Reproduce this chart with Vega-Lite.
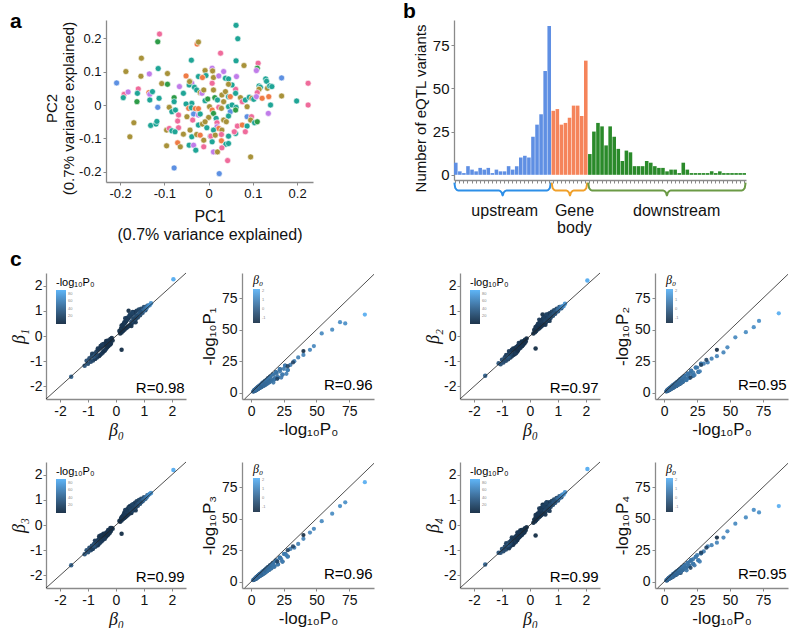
{
"$schema": "https://vega.github.io/schema/vega-lite/v6.json",
"padding": {"left": 10, "top": 0, "right": 0, "bottom": 0},
"config": {
 "font": "Liberation Sans",
 "view": {"stroke": null},
 "locale": {"number": {"decimal": ".", "thousands": ",", "grouping": [3], "currency": ["$", ""], "minus": "-"}},
 "axis": {"grid": false, "domainColor": "#8a8a8a", "domainWidth": 1.3, "tickColor": "#8a8a8a", "tickSize": 3, "labelColor": "#111", "titleColor": "#111", "titleFontWeight": "normal", "labelFontSize": 14, "titleFontSize": 17, "labelPadding": 2, "titlePadding": 3, "labelOverlap": false},
 "legend": {"titleFontWeight": "normal", "titleFontSize": 11, "labelFontSize": 4, "labelColor": "#888", "gradientLength": 34, "gradientThickness": 10, "titlePadding": 2, "labelOverlap": false, "gradientStrokeWidth": 0, "padding": 0},
 "title": {"fontSize": 21, "fontWeight": "bold", "anchor": "start", "frame": "group", "offset": 0, "baseline": "alphabetic", "color": "#000"}
},
"datasets": {
 "pca": [
{"x":-0.208,"y":0.066,"g":"B"},{"x":-0.111,"y":0.212,"g":"P"},{"x":-0.115,"y":0.189,"g":"G"},{"x":-0.026,"y":0.182,"g":"O"},{"x":-0.023,"y":0.188,"g":"L"},{"x":0.027,"y":0.155,"g":"P"},{"x":0.062,"y":0.238,"g":"T"},{"x":0.066,"y":0.198,"g":"T"},{"x":0.062,"y":0.132,"g":"T"},{"x":-0.039,"y":0.134,"g":"T"},
{"x":-0.152,"y":0.14,"g":"L"},{"x":-0.187,"y":0.1,"g":"L"},{"x":-0.153,"y":0.086,"g":"L"},{"x":-0.134,"y":0.093,"g":"U"},{"x":-0.114,"y":0.109,"g":"T"},{"x":-0.093,"y":0.094,"g":"L"},{"x":-0.106,"y":0.064,"g":"L"},{"x":-0.093,"y":0.062,"g":"G"},{"x":-0.191,"y":0.032,"g":"P"},{"x":-0.182,"y":0.039,"g":"U"},
{"x":-0.193,"y":0.022,"g":"T"},{"x":-0.159,"y":0.048,"g":"P"},{"x":-0.161,"y":0.035,"g":"T"},{"x":-0.162,"y":0.01,"g":"G"},{"x":-0.135,"y":0.037,"g":"O"},{"x":-0.133,"y":0.032,"g":"U"},{"x":-0.127,"y":0.04,"g":"T"},{"x":-0.133,"y":0.015,"g":"T"},{"x":-0.112,"y":0.02,"g":"T"},{"x":-0.115,"y":-0.007,"g":"B"},
{"x":-0.169,"y":-0.053,"g":"L"},{"x":-0.178,"y":-0.095,"g":"L"},{"x":-0.131,"y":-0.061,"g":"T"},{"x":-0.119,"y":-0.057,"g":"T"},{"x":-0.117,"y":-0.049,"g":"T"},{"x":-0.095,"y":-0.075,"g":"L"},{"x":-0.089,"y":-0.07,"g":"P"},{"x":-0.095,"y":-0.122,"g":"L"},{"x":-0.078,"y":0.022,"g":"G"},{"x":-0.078,"y":0.01,"g":"T"},
{"x":-0.089,"y":-0.007,"g":"L"},{"x":-0.083,"y":-0.02,"g":"T"},{"x":-0.075,"y":-0.015,"g":"T"},{"x":-0.068,"y":-0.03,"g":"P"},{"x":-0.066,"y":0.055,"g":"U"},{"x":-0.057,"y":0.035,"g":"T"},{"x":-0.07,"y":-0.048,"g":"P"},{"x":-0.068,"y":-0.068,"g":"P"},{"x":-0.083,"y":-0.077,"g":"T"},{"x":-0.076,"y":-0.08,"g":"T"},
{"x":-0.057,"y":-0.087,"g":"L"},{"x":-0.07,"y":-0.113,"g":"O"},{"x":-0.064,"y":-0.125,"g":"L"},{"x":-0.078,"y":-0.188,"g":"B"},{"x":-0.051,"y":0.087,"g":"O"},{"x":-0.042,"y":0.07,"g":"O"},{"x":-0.038,"y":0.065,"g":"U"},{"x":-0.044,"y":0.06,"g":"T"},{"x":-0.032,"y":0.053,"g":"T"},{"x":-0.027,"y":0.045,"g":"T"},
{"x":-0.019,"y":0.037,"g":"L"},{"x":-0.015,"y":0.035,"g":"U"},{"x":-0.038,"y":0.005,"g":"T"},{"x":-0.051,"y":0.003,"g":"T"},{"x":-0.045,"y":-0.01,"g":"O"},{"x":-0.039,"y":-0.008,"g":"T"},{"x":-0.03,"y":-0.011,"g":"O"},{"x":-0.023,"y":-0.011,"g":"O"},{"x":-0.049,"y":-0.035,"g":"L"},{"x":-0.034,"y":-0.027,"g":"B"},
{"x":-0.023,"y":-0.03,"g":"U"},{"x":-0.019,"y":-0.027,"g":"T"},{"x":-0.036,"y":-0.045,"g":"P"},{"x":-0.042,"y":-0.075,"g":"L"},{"x":-0.038,"y":-0.095,"g":"T"},{"x":-0.044,"y":-0.12,"g":"T"},{"x":-0.034,"y":-0.12,"g":"U"},{"x":-0.029,"y":-0.135,"g":"T"},{"x":-0.027,"y":-0.088,"g":"L"},{"x":-0.023,"y":-0.06,"g":"T"},
{"x":-0.014,"y":-0.057,"g":"L"},{"x":-0.004,"y":-0.068,"g":"T"},{"x":-0.019,"y":-0.09,"g":"O"},{"x":-0.011,"y":-0.105,"g":"L"},{"x":-0.011,"y":-0.125,"g":"P"},{"x":0.004,"y":-0.093,"g":"T"},{"x":-0.008,"y":0.103,"g":"L"},{"x":0.008,"y":0.11,"g":"U"},{"x":0.009,"y":0.102,"g":"L"},{"x":-0.023,"y":0.085,"g":"T"},
{"x":-0.006,"y":0.088,"g":"T"},{"x":0.011,"y":0.082,"g":"L"},{"x":0.023,"y":0.087,"g":"U"},{"x":0.034,"y":0.1,"g":"U"},{"x":0.038,"y":0.08,"g":"T"},{"x":0.045,"y":0.078,"g":"T"},{"x":0.063,"y":0.085,"g":"U"},{"x":0.008,"y":0.065,"g":"P"},{"x":0.011,"y":0.045,"g":"L"},{"x":0.014,"y":0.022,"g":"G"},
{"x":0.02,"y":0.015,"g":"T"},{"x":0.03,"y":0.03,"g":"L"},{"x":0.038,"y":0.04,"g":"L"},{"x":0.045,"y":0.025,"g":"T"},{"x":0.049,"y":0.025,"g":"O"},{"x":0.061,"y":0.047,"g":"P"},{"x":0.061,"y":0.035,"g":"T"},{"x":0.002,"y":-0.005,"g":"L"},{"x":0.008,"y":-0.015,"g":"O"},{"x":0.023,"y":-0.007,"g":"P"},
{"x":0.029,"y":-0.01,"g":"L"},{"x":0.034,"y":0.01,"g":"L"},{"x":0.045,"y":-0.005,"g":"T"},{"x":0.053,"y":0,"g":"T"},{"x":0.062,"y":-0.007,"g":"T"},{"x":0.049,"y":-0.02,"g":"B"},{"x":0.061,"y":-0.015,"g":"G"},{"x":0.011,"y":-0.025,"g":"G"},{"x":0,"y":-0.037,"g":"L"},{"x":0.017,"y":-0.04,"g":"T"},
{"x":-0.008,"y":-0.05,"g":"L"},{"x":0.019,"y":-0.053,"g":"P"},{"x":0.034,"y":-0.045,"g":"L"},{"x":0.045,"y":-0.033,"g":"T"},{"x":0.04,"y":-0.05,"g":"L"},{"x":0.019,"y":-0.065,"g":"U"},{"x":0.023,"y":-0.07,"g":"O"},{"x":0.03,"y":-0.075,"g":"L"},{"x":0.011,"y":-0.075,"g":"T"},{"x":0.005,"y":-0.093,"g":"P"},
{"x":0.015,"y":-0.09,"g":"L"},{"x":0.029,"y":-0.088,"g":"P"},{"x":0.045,"y":-0.093,"g":"T"},{"x":0.029,"y":-0.107,"g":"O"},{"x":0.008,"y":-0.11,"g":"T"},{"x":0.039,"y":-0.117,"g":"T"},{"x":0.011,"y":-0.14,"g":"U"},{"x":0.02,"y":-0.14,"g":"L"},{"x":0.03,"y":-0.128,"g":"P"},{"x":0.043,"y":-0.166,"g":"P"},
{"x":0.024,"y":-0.205,"g":"B"},{"x":0.045,"y":-0.115,"g":"T"},{"x":0.061,"y":-0.085,"g":"T"},{"x":0.065,"y":-0.063,"g":"P"},{"x":0.058,"y":-0.08,"g":"P"},{"x":0.076,"y":-0.06,"g":"O"},{"x":0.087,"y":-0.063,"g":"T"},{"x":0.083,"y":-0.08,"g":"P"},{"x":0.087,"y":-0.035,"g":"B"},{"x":0.097,"y":-0.035,"g":"P"},
{"x":0.095,"y":-0.045,"g":"L"},{"x":0.104,"y":-0.053,"g":"T"},{"x":0.11,"y":-0.05,"g":"G"},{"x":0.095,"y":-0.155,"g":"L"},{"x":0.08,"y":0.118,"g":"L"},{"x":0.112,"y":0.125,"g":"P"},{"x":0.11,"y":0.11,"g":"G"},{"x":0.108,"y":0.103,"g":"U"},{"x":0.072,"y":0.022,"g":"L"},{"x":0.076,"y":0.01,"g":"P"},
{"x":0.083,"y":0.015,"g":"T"},{"x":0.087,"y":-0.005,"g":"L"},{"x":0.092,"y":0.023,"g":"T"},{"x":0.098,"y":0.02,"g":"L"},{"x":0.102,"y":0.017,"g":"T"},{"x":0.114,"y":0.057,"g":"T"},{"x":0.117,"y":0.053,"g":"T"},{"x":0.114,"y":0.047,"g":"L"},{"x":0.11,"y":0.037,"g":"P"},{"x":0.108,"y":0.025,"g":"U"},
{"x":0.129,"y":0.078,"g":"T"},{"x":0.131,"y":0.071,"g":"T"},{"x":0.133,"y":0.05,"g":"L"},{"x":0.138,"y":0.057,"g":"T"},{"x":0.143,"y":0.055,"g":"T"},{"x":0.121,"y":0.02,"g":"O"},{"x":0.136,"y":0.025,"g":"O"},{"x":0.14,"y":0,"g":"T"},{"x":0.135,"y":-0.025,"g":"U"},{"x":0.165,"y":0.081,"g":"B"},
{"x":0.165,"y":0.027,"g":"L"},{"x":0.199,"y":0.012,"g":"T"},{"x":0.225,"y":0.065,"g":"P"},{"x":0.225,"y":0,"g":"P"},{"x":0.053,"y":0.06,"g":"T"},{"x":0.045,"y":0.062,"g":"L"},{"x":-0.011,"y":0.045,"g":"L"},{"x":-0.014,"y":0.082,"g":"O"},{"x":-0.043,"y":0.07,"g":"L"},{"x":-0.008,"y":0.013,"g":"T"},
{"x":-0.002,"y":0.018,"g":"G"}
 ],
 "hist": [
{"bin":0,"n":7,"r":"upstream"},{"bin":1,"n":2,"r":"upstream"},{"bin":2,"n":1,"r":"upstream"},{"bin":3,"n":5,"r":"upstream"},{"bin":4,"n":3,"r":"upstream"},{"bin":5,"n":2,"r":"upstream"},{"bin":6,"n":4,"r":"upstream"},{"bin":7,"n":3,"r":"upstream"},{"bin":8,"n":4,"r":"upstream"},{"bin":9,"n":1,"r":"upstream"},{"bin":10,"n":3,"r":"upstream"},{"bin":11,"n":2,"r":"upstream"},{"bin":12,"n":2,"r":"upstream"},{"bin":13,"n":5,"r":"upstream"},{"bin":14,"n":3,"r":"upstream"},{"bin":15,"n":5,"r":"upstream"},{"bin":16,"n":10,"r":"upstream"},{"bin":17,"n":11,"r":"upstream"},{"bin":18,"n":10,"r":"upstream"},{"bin":19,"n":22,"r":"upstream"},{"bin":20,"n":29,"r":"upstream"},{"bin":21,"n":35,"r":"upstream"},{"bin":22,"n":60,"r":"upstream"},{"bin":23,"n":86,"r":"upstream"},
{"bin":24,"n":37,"r":"gene"},{"bin":25,"n":38,"r":"gene"},{"bin":26,"n":29,"r":"gene"},{"bin":27,"n":30,"r":"gene"},{"bin":28,"n":33,"r":"gene"},{"bin":29,"n":40,"r":"gene"},{"bin":30,"n":40,"r":"gene"},{"bin":31,"n":34,"r":"gene"},{"bin":32,"n":66,"r":"gene"},
{"bin":33,"n":12,"r":"downstream"},{"bin":34,"n":25,"r":"downstream"},{"bin":35,"n":30,"r":"downstream"},{"bin":36,"n":28,"r":"downstream"},{"bin":37,"n":17,"r":"downstream"},{"bin":38,"n":28,"r":"downstream"},{"bin":39,"n":22,"r":"downstream"},{"bin":40,"n":15,"r":"downstream"},{"bin":41,"n":8,"r":"downstream"},{"bin":42,"n":14,"r":"downstream"},{"bin":43,"n":13,"r":"downstream"},{"bin":44,"n":5,"r":"downstream"},{"bin":45,"n":5,"r":"downstream"},{"bin":46,"n":5,"r":"downstream"},{"bin":47,"n":8,"r":"downstream"},{"bin":48,"n":7,"r":"downstream"},{"bin":49,"n":5,"r":"downstream"},{"bin":50,"n":4,"r":"downstream"},{"bin":51,"n":4,"r":"downstream"},{"bin":52,"n":2,"r":"downstream"},{"bin":53,"n":3,"r":"downstream"},{"bin":54,"n":3,"r":"downstream"},{"bin":55,"n":1,"r":"downstream"},{"bin":56,"n":7,"r":"downstream"},{"bin":57,"n":3,"r":"downstream"},{"bin":58,"n":1,"r":"downstream"},{"bin":59,"n":1,"r":"downstream"},{"bin":60,"n":1,"r":"downstream"},{"bin":61,"n":1,"r":"downstream"},{"bin":62,"n":1,"r":"downstream"},{"bin":63,"n":2,"r":"downstream"},{"bin":64,"n":1,"r":"downstream"},{"bin":65,"n":2,"r":"downstream"},{"bin":66,"n":1,"r":"downstream"},{"bin":67,"n":1,"r":"downstream"},{"bin":68,"n":1,"r":"downstream"},{"bin":69,"n":1,"r":"downstream"},{"bin":70,"n":1,"r":"downstream"},{"bin":71,"n":1,"r":"downstream"}
 ],
 "braces": [
{"k":"u","x":0.1,"y":-4.5},{"k":"u","x":0.35,"y":-7.8},{"k":"u","x":1.0,"y":-9},{"k":"u","x":11.1,"y":-9},{"k":"u","x":11.75,"y":-10.2},{"k":"u","x":12,"y":-12},{"k":"u","x":12.25,"y":-10.2},{"k":"u","x":12.9,"y":-9},{"k":"u","x":22.95,"y":-9},{"k":"u","x":23.6,"y":-7.8},{"k":"u","x":23.85,"y":-4.5},
{"k":"g","x":24.1,"y":-4.5},{"k":"g","x":24.35,"y":-7.8},{"k":"g","x":25.0,"y":-9},{"k":"g","x":27.7,"y":-9},{"k":"g","x":28.35,"y":-10.2},{"k":"g","x":28.6,"y":-12},{"k":"g","x":28.85,"y":-10.2},{"k":"g","x":29.5,"y":-9},{"k":"g","x":31.95,"y":-9},{"k":"g","x":32.6,"y":-7.8},{"k":"g","x":32.85,"y":-4.5},
{"k":"d","x":33.1,"y":-4.5},{"k":"d","x":33.35,"y":-7.8},{"k":"d","x":34.0,"y":-9},{"k":"d","x":51.6,"y":-9},{"k":"d","x":52.25,"y":-10.2},{"k":"d","x":52.5,"y":-12},{"k":"d","x":52.75,"y":-10.2},{"k":"d","x":53.4,"y":-9},{"k":"d","x":71.0,"y":-9},{"k":"d","x":71.65,"y":-7.8},{"k":"d","x":71.9,"y":-4.5}
 ],
 "regions": [
{"t":"upstream","x":12.5,"y":-20.8},{"t":"Gene","x":29.7,"y":-20.8},{"t":"body","x":29.7,"y":-30.8},{"t":"downstream","x":54.9,"y":-20.8}
 ],
 "eqtl": [
{"b0":-0.12,"b1":-0.18,"b2":-0.1,"b3":-0.15,"b4":-0.09,"p0":2.1,"p1":1.2,"p2":1.8,"p3":1.5,"p4":1.0},
{"b0":-0.15,"b1":-0.08,"b2":-0.22,"b3":-0.12,"b4":-0.2,"p0":2.6,"p1":2.2,"p2":1.4,"p3":2.0,"p4":1.7},
{"b0":-0.18,"b1":-0.3,"b2":-0.15,"b3":-0.24,"b4":-0.13,"p0":3.0,"p1":1.6,"p2":2.6,"p3":2.1,"p4":2.4},
{"b0":-0.2,"b1":-0.12,"b2":-0.3,"b3":-0.17,"b4":-0.27,"p0":3.4,"p1":2.8,"p2":1.9,"p3":3.0,"p4":2.2},
{"b0":-0.22,"b1":-0.35,"b2":-0.2,"b3":-0.31,"b4":-0.18,"p0":3.8,"p1":2.0,"p2":3.3,"p3":2.4,"p4":3.0},
{"b0":-0.25,"b1":-0.2,"b2":-0.36,"b3":-0.22,"b4":-0.33,"p0":4.2,"p1":3.6,"p2":2.4,"p3":3.8,"p4":2.7},
{"b0":-0.27,"b1":-0.4,"b2":-0.25,"b3":-0.37,"b4":-0.22,"p0":4.5,"p1":2.6,"p2":3.9,"p3":3.0,"p4":3.8},
{"b0":-0.3,"b1":-0.24,"b2":-0.41,"b3":-0.27,"b4":-0.4,"p0":5.0,"p1":4.4,"p2":3.0,"p3":4.5,"p4":3.4},
{"b0":-0.32,"b1":-0.46,"b2":-0.28,"b3":-0.42,"b4":-0.3,"p0":5.3,"p1":3.1,"p2":4.6,"p3":3.6,"p4":4.5},
{"b0":-0.34,"b1":-0.27,"b2":-0.47,"b3":-0.3,"b4":-0.44,"p0":5.8,"p1":5.0,"p2":3.5,"p3":5.2,"p4":3.8},
{"b0":-0.36,"b1":-0.52,"b2":-0.33,"b3":-0.47,"b4":-0.32,"p0":6.1,"p1":3.6,"p2":5.3,"p3":4.2,"p4":5.0},
{"b0":-0.38,"b1":-0.3,"b2":-0.5,"b3":-0.34,"b4":-0.49,"p0":6.5,"p1":5.7,"p2":4.0,"p3":5.9,"p4":4.5},
{"b0":-0.4,"b1":-0.56,"b2":-0.36,"b3":-0.5,"b4":-0.35,"p0":7.0,"p1":4.1,"p2":6.0,"p3":4.8,"p4":6.2},
{"b0":-0.42,"b1":-0.35,"b2":-0.55,"b3":-0.38,"b4":-0.52,"p0":7.4,"p1":6.5,"p2":4.6,"p3":6.6,"p4":5.0},
{"b0":-0.44,"b1":-0.6,"b2":-0.4,"b3":-0.56,"b4":-0.4,"p0":7.9,"p1":4.6,"p2":6.9,"p3":5.3,"p4":6.7},
{"b0":-0.46,"b1":-0.38,"b2":-0.6,"b3":-0.41,"b4":-0.58,"p0":8.3,"p1":7.4,"p2":5.1,"p3":7.4,"p4":5.6},
{"b0":-0.48,"b1":-0.66,"b2":-0.44,"b3":-0.61,"b4":-0.43,"p0":8.8,"p1":5.2,"p2":7.5,"p3":5.9,"p4":7.6},
{"b0":-0.5,"b1":-0.42,"b2":-0.64,"b3":-0.46,"b4":-0.63,"p0":9.2,"p1":8.1,"p2":5.6,"p3":8.2,"p4":6.1},
{"b0":-0.52,"b1":-0.7,"b2":-0.47,"b3":-0.65,"b4":-0.47,"p0":9.8,"p1":5.7,"p2":8.4,"p3":6.6,"p4":8.3},
{"b0":-0.55,"b1":-0.47,"b2":-0.7,"b3":-0.5,"b4":-0.68,"p0":10.5,"p1":9.2,"p2":6.3,"p3":9.4,"p4":6.9},
{"b0":-0.57,"b1":-0.75,"b2":-0.52,"b3":-0.7,"b4":-0.52,"p0":11.0,"p1":6.4,"p2":9.5,"p3":7.4,"p4":9.3},
{"b0":-0.6,"b1":-0.51,"b2":-0.75,"b3":-0.55,"b4":-0.74,"p0":11.8,"p1":10.3,"p2":7.2,"p3":10.6,"p4":7.8},
{"b0":-0.62,"b1":-0.8,"b2":-0.57,"b3":-0.75,"b4":-0.56,"p0":12.3,"p1":7.3,"p2":10.7,"p3":8.4,"p4":10.4},
{"b0":-0.65,"b1":-0.56,"b2":-0.8,"b3":-0.6,"b4":-0.79,"p0":13.0,"p1":11.5,"p2":8.0,"p3":11.7,"p4":8.7},
{"b0":-0.68,"b1":-0.85,"b2":-0.62,"b3":-0.8,"b4":-0.62,"p0":13.8,"p1":8.2,"p2":12.0,"p3":9.4,"p4":11.8},
{"b0":-0.7,"b1":-0.62,"b2":-0.85,"b3":-0.66,"b4":-0.84,"p0":14.5,"p1":12.8,"p2":9.0,"p3":13.0,"p4":9.7},
{"b0":-0.74,"b1":-0.9,"b2":-0.68,"b3":-0.86,"b4":-0.68,"p0":15.5,"p1":9.3,"p2":13.4,"p3":10.6,"p4":13.2},
{"b0":-0.78,"b1":-0.7,"b2":-0.92,"b3":-0.74,"b4":-0.9,"p0":16.6,"p1":14.5,"p2":10.4,"p3":14.8,"p4":11.0},
{"b0":-0.82,"b1":-0.97,"b2":-0.76,"b3":-0.94,"b4":-0.77,"p0":17.8,"p1":10.6,"p2":15.2,"p3":12.0,"p4":15.0},
{"b0":-0.86,"b1":-0.78,"b2":-0.98,"b3":-0.82,"b4":-0.97,"p0":19.0,"p1":16.4,"p2":11.8,"p3":16.8,"p4":12.5},
{"b0":-0.9,"b1":-1.02,"b2":-0.84,"b3":-1.0,"b4":-0.86,"p0":20.5,"p1":12.2,"p2":17.5,"p3":13.8,"p4":17.2},
{"b0":-0.95,"b1":-0.88,"b2":-1.05,"b3":-0.9,"b4":-1.04,"p0":22.0,"p1":18.8,"p2":13.5,"p3":19.2,"p4":14.2},
{"b0":-1.0,"b1":-1.1,"b2":-0.94,"b3":-1.08,"b4":-0.95,"p0":24.0,"p1":14.4,"p2":20.0,"p3":16.0,"p4":19.8},
{"b0":-1.05,"b1":-0.98,"b2":-1.12,"b3":-1.0,"b4":-1.1,"p0":26.0,"p1":21.5,"p2":16.5,"p3":22.0,"p4":17.0},
{"b0":-1.12,"b1":-1.18,"b2":-1.08,"b3":-1.16,"b4":-1.1,"p0":28.0,"p1":18.0,"p2":23.0,"p3":20.0,"p4":22.5},
{"b0":-1.6,"b1":-1.62,"b2":-1.58,"b3":-1.6,"b4":-1.57,"p0":40.0,"p1":33.0,"p2":34.0,"p3":37.0,"p4":35.0},
{"b0":-0.35,"b1":-0.2,"b2":-0.3,"b3":-0.45,"b4":-0.22,"p0":4.0,"p1":3.0,"p2":2.2,"p3":3.5,"p4":2.5},
{"b0":-0.45,"b1":-0.32,"b2":-0.62,"b3":-0.35,"b4":-0.3,"p0":5.5,"p1":4.0,"p2":3.2,"p3":4.8,"p4":3.4},
{"b0":-0.55,"b1":-0.4,"b2":-0.72,"b3":-0.42,"b4":-0.7,"p0":7.5,"p1":5.2,"p2":4.5,"p3":6.4,"p4":4.8},
{"b0":-0.3,"b1":-0.42,"b2":-0.22,"b3":-0.4,"b4":-0.2,"p0":3.6,"p1":2.0,"p2":2.9,"p3":2.4,"p4":3.1},
{"b0":-0.4,"b1":-0.58,"b2":-0.28,"b3":-0.55,"b4":-0.3,"p0":9.5,"p1":6.0,"p2":5.5,"p3":8.4,"p4":5.8},
{"b0":-0.5,"b1":-0.35,"b2":-0.68,"b3":-0.4,"b4":-0.66,"p0":12.5,"p1":8.0,"p2":7.4,"p3":10.5,"p4":7.0},
{"b0":-0.6,"b1":-0.78,"b2":-0.5,"b3":-0.45,"b4":-0.78,"p0":6.2,"p1":4.0,"p2":5.0,"p3":4.5,"p4":4.2},
{"b0":-0.28,"b1":-0.18,"b2":-0.4,"b3":-0.2,"b4":-0.38,"p0":6.8,"p1":4.5,"p2":3.8,"p3":6.0,"p4":4.0},
{"b0":0.2,"b1":-0.55,"b2":-0.5,"b3":-0.35,"b4":-0.42,"p0":1.5,"p1":0.8,"p2":0.9,"p3":1.2,"p4":1.0},
{"b0":-0.65,"b1":-0.5,"b2":-0.55,"b3":-0.8,"b4":-0.5,"p0":9.0,"p1":6.0,"p2":5.2,"p3":7.8,"p4":5.5},
{"b0":-0.75,"b1":-0.9,"b2":-0.6,"b3":-0.62,"b4":-0.92,"p0":11.5,"p1":7.5,"p2":6.8,"p3":10.0,"p4":7.2},
{"b0":-0.2,"b1":-0.32,"b2":-0.28,"b3":-0.12,"b4":-0.3,"p0":5.0,"p1":3.0,"p2":3.5,"p3":4.3,"p4":3.2},
{"b0":-0.45,"b1":-0.62,"b2":-0.58,"b3":-0.4,"b4":-0.6,"p0":4.8,"p1":2.6,"p2":3.8,"p3":4.0,"p4":3.0},
{"b0":-0.85,"b1":-0.7,"b2":-0.75,"b3":-0.95,"b4":-0.72,"p0":14.0,"p1":9.0,"p2":8.5,"p3":12.0,"p4":9.2},
{"b0":0.12,"b1":0.2,"b2":0.1,"b3":0.16,"b4":0.09,"p0":2.0,"p1":1.1,"p2":1.7,"p3":1.4,"p4":1.0},
{"b0":0.15,"b1":0.1,"b2":0.24,"b3":0.13,"b4":0.21,"p0":2.4,"p1":2.0,"p2":1.2,"p3":1.9,"p4":1.5},
{"b0":0.18,"b1":0.3,"b2":0.15,"b3":0.26,"b4":0.14,"p0":2.9,"p1":1.5,"p2":2.5,"p3":2.0,"p4":2.3},
{"b0":0.2,"b1":0.14,"b2":0.32,"b3":0.18,"b4":0.3,"p0":3.3,"p1":2.7,"p2":1.8,"p3":2.9,"p4":2.1},
{"b0":0.22,"b1":0.38,"b2":0.2,"b3":0.33,"b4":0.19,"p0":3.7,"p1":1.9,"p2":3.2,"p3":2.3,"p4":2.9},
{"b0":0.25,"b1":0.2,"b2":0.4,"b3":0.24,"b4":0.37,"p0":4.1,"p1":3.5,"p2":2.3,"p3":3.7,"p4":2.6},
{"b0":0.27,"b1":0.45,"b2":0.26,"b3":0.4,"b4":0.25,"p0":4.4,"p1":2.5,"p2":3.8,"p3":2.9,"p4":3.7},
{"b0":0.3,"b1":0.25,"b2":0.46,"b3":0.28,"b4":0.44,"p0":4.9,"p1":4.3,"p2":2.9,"p3":4.4,"p4":3.3},
{"b0":0.32,"b1":0.52,"b2":0.3,"b3":0.47,"b4":0.31,"p0":5.2,"p1":3.0,"p2":4.5,"p3":3.5,"p4":4.4},
{"b0":0.34,"b1":0.3,"b2":0.52,"b3":0.32,"b4":0.5,"p0":5.7,"p1":4.9,"p2":3.4,"p3":5.1,"p4":3.7},
{"b0":0.36,"b1":0.58,"b2":0.34,"b3":0.52,"b4":0.35,"p0":6.0,"p1":3.5,"p2":5.2,"p3":4.1,"p4":4.9},
{"b0":0.38,"b1":0.33,"b2":0.57,"b3":0.36,"b4":0.55,"p0":6.4,"p1":5.6,"p2":3.9,"p3":5.8,"p4":4.4},
{"b0":0.4,"b1":0.64,"b2":0.38,"b3":0.58,"b4":0.39,"p0":6.9,"p1":4.0,"p2":5.9,"p3":4.7,"p4":6.1},
{"b0":0.42,"b1":0.37,"b2":0.62,"b3":0.4,"b4":0.6,"p0":7.3,"p1":6.4,"p2":4.5,"p3":6.5,"p4":4.9},
{"b0":0.44,"b1":0.7,"b2":0.42,"b3":0.63,"b4":0.43,"p0":7.8,"p1":4.5,"p2":6.8,"p3":5.2,"p4":6.6},
{"b0":0.46,"b1":0.4,"b2":0.68,"b3":0.44,"b4":0.66,"p0":8.2,"p1":7.3,"p2":5.0,"p3":7.3,"p4":5.5},
{"b0":0.48,"b1":0.76,"b2":0.46,"b3":0.68,"b4":0.47,"p0":8.7,"p1":5.1,"p2":7.4,"p3":5.8,"p4":7.5},
{"b0":0.5,"b1":0.44,"b2":0.72,"b3":0.48,"b4":0.7,"p0":9.1,"p1":8.0,"p2":5.5,"p3":8.1,"p4":6.0},
{"b0":0.52,"b1":0.8,"b2":0.5,"b3":0.72,"b4":0.5,"p0":9.7,"p1":5.6,"p2":8.3,"p3":6.5,"p4":8.2},
{"b0":0.55,"b1":0.49,"b2":0.77,"b3":0.53,"b4":0.75,"p0":10.4,"p1":9.1,"p2":6.2,"p3":9.3,"p4":6.8},
{"b0":0.57,"b1":0.86,"b2":0.55,"b3":0.78,"b4":0.56,"p0":10.9,"p1":6.3,"p2":9.4,"p3":7.3,"p4":9.2},
{"b0":0.6,"b1":0.54,"b2":0.82,"b3":0.58,"b4":0.8,"p0":11.7,"p1":10.2,"p2":7.1,"p3":10.5,"p4":7.7},
{"b0":0.62,"b1":0.9,"b2":0.6,"b3":0.82,"b4":0.6,"p0":12.2,"p1":7.2,"p2":10.6,"p3":8.3,"p4":10.3},
{"b0":0.65,"b1":0.6,"b2":0.86,"b3":0.63,"b4":0.85,"p0":12.9,"p1":11.4,"p2":7.9,"p3":11.6,"p4":8.6},
{"b0":0.68,"b1":0.95,"b2":0.66,"b3":0.88,"b4":0.66,"p0":13.7,"p1":8.1,"p2":11.9,"p3":9.3,"p4":11.7},
{"b0":0.7,"b1":0.66,"b2":0.9,"b3":0.68,"b4":0.9,"p0":14.4,"p1":12.7,"p2":8.9,"p3":12.9,"p4":9.6},
{"b0":0.74,"b1":1.0,"b2":0.72,"b3":0.94,"b4":0.72,"p0":15.4,"p1":9.2,"p2":13.3,"p3":10.5,"p4":13.1},
{"b0":0.78,"b1":0.73,"b2":0.96,"b3":0.76,"b4":0.95,"p0":16.5,"p1":14.4,"p2":10.3,"p3":14.7,"p4":10.9},
{"b0":0.82,"b1":1.05,"b2":0.8,"b3":0.99,"b4":0.8,"p0":17.7,"p1":10.5,"p2":15.1,"p3":11.9,"p4":14.9},
{"b0":0.86,"b1":0.82,"b2":1.02,"b3":0.84,"b4":1.01,"p0":18.9,"p1":16.3,"p2":11.7,"p3":16.7,"p4":12.4},
{"b0":0.9,"b1":1.08,"b2":0.88,"b3":1.04,"b4":0.88,"p0":20.4,"p1":12.1,"p2":17.4,"p3":13.7,"p4":17.1},
{"b0":0.95,"b1":0.92,"b2":1.08,"b3":0.94,"b4":1.07,"p0":21.9,"p1":18.7,"p2":13.4,"p3":19.1,"p4":14.1},
{"b0":1.0,"b1":1.15,"b2":0.98,"b3":1.1,"b4":0.97,"p0":23.9,"p1":14.3,"p2":19.9,"p3":15.9,"p4":19.7},
{"b0":1.05,"b1":1.02,"b2":1.15,"b3":1.04,"b4":1.14,"p0":25.9,"p1":21.4,"p2":16.4,"p3":21.9,"p4":16.9},
{"b0":1.12,"b1":1.2,"b2":1.1,"b3":1.18,"b4":1.1,"p0":27.9,"p1":17.9,"p2":22.9,"p3":19.9,"p4":22.4},
{"b0":0.3,"b1":0.55,"b2":0.4,"b3":0.5,"b4":0.45,"p0":7.0,"p1":4.2,"p2":4.8,"p3":6.0,"p4":4.4},
{"b0":0.4,"b1":0.72,"b2":0.55,"b3":0.62,"b4":0.68,"p0":9.8,"p1":6.2,"p2":6.8,"p3":8.5,"p4":6.4},
{"b0":0.5,"b1":0.85,"b2":0.62,"b3":0.75,"b4":0.8,"p0":12.8,"p1":8.0,"p2":8.6,"p3":11.0,"p4":8.2},
{"b0":0.45,"b1":1.0,"b2":0.85,"b3":0.7,"b4":0.8,"p0":3.5,"p1":2.5,"p2":2.9,"p3":3.1,"p4":2.8},
{"b0":0.6,"b1":0.95,"b2":0.82,"b3":0.8,"b4":0.9,"p0":6.5,"p1":4.4,"p2":5.8,"p3":5.5,"p4":4.7},
{"b0":0.35,"b1":0.62,"b2":0.55,"b3":0.52,"b4":0.58,"p0":8.0,"p1":5.0,"p2":6.2,"p3":7.0,"p4":5.4},
{"b0":0.25,"b1":0.45,"b2":0.38,"b3":0.35,"b4":0.42,"p0":5.5,"p1":3.4,"p2":4.0,"p3":4.8,"p4":3.6},
{"b0":0.55,"b1":0.4,"b2":0.45,"b3":0.48,"b4":0.42,"p0":6.6,"p1":4.6,"p2":5.6,"p3":5.9,"p4":4.9},
{"b0":0.7,"b1":0.55,"b2":0.6,"b3":0.58,"b4":0.56,"p0":8.5,"p1":6.2,"p2":7.5,"p3":7.6,"p4":6.5},
{"b0":0.28,"b1":0.5,"b2":0.48,"b3":0.42,"b4":0.46,"p0":10.0,"p1":6.5,"p2":7.0,"p3":8.8,"p4":6.8},
{"b0":0.38,"b1":0.66,"b2":0.6,"b3":0.55,"b4":0.62,"p0":13.5,"p1":8.8,"p2":9.5,"p3":11.8,"p4":9.0},
{"b0":0.48,"b1":0.8,"b2":0.72,"b3":0.68,"b4":0.75,"p0":16.0,"p1":10.5,"p2":11.2,"p3":14.0,"p4":10.8},
{"b0":0.58,"b1":0.92,"b2":0.85,"b3":0.8,"b4":0.88,"p0":18.5,"p1":12.0,"p2":13.5,"p3":16.2,"p4":12.4},
{"b0":0.2,"b1":0.42,"b2":0.36,"b3":0.3,"b4":0.4,"p0":7.5,"p1":4.8,"p2":5.2,"p3":6.5,"p4":5.0},
{"b0":0.33,"b1":0.7,"b2":0.65,"b3":0.6,"b4":0.66,"p0":11.0,"p1":7.0,"p2":7.8,"p3":9.6,"p4":7.2},
{"b0":0.8,"b1":0.84,"b2":0.82,"b3":0.83,"b4":0.81,"p0":30.0,"p1":22.0,"p2":23.0,"p3":26.0,"p4":24.0},
{"b0":0.85,"b1":0.9,"b2":0.87,"b3":0.86,"b4":0.9,"p0":33.0,"p1":25.0,"p2":24.0,"p3":27.0,"p4":28.0},
{"b0":0.9,"b1":0.93,"b2":0.95,"b3":0.92,"b4":0.91,"p0":36.0,"p1":28.0,"p2":27.0,"p3":30.0,"p4":29.0},
{"b0":0.95,"b1":1.0,"b2":0.97,"b3":0.98,"b4":1.0,"p0":40.0,"p1":30.0,"p2":29.0,"p3":34.0,"p4":31.0},
{"b0":1.0,"b1":1.02,"b2":1.05,"b3":1.01,"b4":1.03,"p0":45.0,"p1":34.0,"p2":32.0,"p3":39.0,"p4":35.0},
{"b0":1.05,"b1":1.1,"b2":1.08,"b3":1.07,"b4":1.06,"p0":48.0,"p1":37.0,"p2":36.0,"p3":42.0,"p4":40.0},
{"b0":1.1,"b1":1.12,"b2":1.15,"b3":1.11,"b4":1.14,"p0":54.0,"p1":47.0,"p2":44.0,"p3":48.0,"p4":46.0},
{"b0":1.15,"b1":1.2,"b2":1.17,"b3":1.18,"b4":1.2,"p0":62.0,"p1":50.0,"p2":48.0,"p3":54.0,"p4":51.0},
{"b0":1.2,"b1":1.22,"b2":1.19,"b3":1.23,"b4":1.21,"p0":68.0,"p1":56.0,"p2":52.0,"p3":60.0,"p4":57.0},
{"b0":1.25,"b1":1.3,"b2":1.28,"b3":1.27,"b4":1.3,"p0":72.0,"p1":55.0,"p2":57.0,"p3":63.0,"p4":55.0},
{"b0":2.05,"b1":2.25,"b2":2.2,"b3":2.18,"b4":2.22,"p0":87.0,"p1":62.0,"p2":63.0,"p3":79.0,"p4":60.0},
{"b0":0.75,"b1":0.78,"b2":0.8,"b3":0.77,"b4":0.79,"p0":25.0,"p1":19.0,"p2":20.0,"p3":22.0,"p4":21.0},
{"b0":0.65,"b1":0.66,"b2":0.7,"b3":0.67,"b4":0.69,"p0":22.0,"p1":17.0,"p2":16.0,"p3":19.0,"p4":18.0},
{"b0":0.55,"b1":0.58,"b2":0.6,"b3":0.57,"b4":0.59,"p0":19.5,"p1":15.0,"p2":15.5,"p3":17.0,"p4":16.0},
{"b0":-0.8,"b1":-0.82,"b2":-0.85,"b3":-0.83,"b4":-0.8,"p0":28.0,"p1":21.0,"p2":22.0,"p3":25.0,"p4":23.0},
{"b0":-0.75,"b1":-0.77,"b2":-0.8,"b3":-0.78,"b4":-0.76,"p0":32.0,"p1":24.0,"p2":26.0,"p3":28.0,"p4":27.0},
{"b0":0.72,"b1":0.8,"b2":0.76,"b3":0.75,"b4":0.78,"p0":23.0,"p1":12.0,"p2":14.0,"p3":18.0,"p4":13.0},
{"b0":0.88,"b1":0.95,"b2":0.92,"b3":0.9,"b4":0.94,"p0":27.0,"p1":15.0,"p2":17.0,"p3":21.0,"p4":16.0},
{"b0":-0.7,"b1":-0.75,"b2":-0.72,"b3":-0.74,"b4":-0.73,"p0":20.0,"p1":11.0,"p2":12.0,"p3":16.0,"p4":11.0},
{"b0":0.62,"b1":0.7,"b2":0.66,"b3":0.65,"b4":0.68,"p0":17.0,"p1":8.0,"p2":10.0,"p3":13.0,"p4":9.0}
 ]
},
"columns": 1,
"spacing": 7,
"resolve": {"scale": {"color": "independent"}, "legend": {"color": "independent"}},
"concat": [
 {
  "bounds": "flush", "spacing": 59,
  "resolve": {"scale": {"color": "independent"}, "legend": {"color": "independent"}},
  "hconcat": [
   {"data": {"values": [{}]}, "mark": {"type": "point", "opacity": 0}, "encoding": {}, "width": 1, "height": 1},
   {
    "bounds": "flush", "spacing": 141,
    "resolve": {"scale": {"color": "independent"}, "legend": {"color": "independent"}},
    "hconcat": [
     {
      "width": 207, "height": 162,
      "title": {"text": "a", "dx": -96, "dy": 15.5},
      "data": {"name": "pca"},
      "mark": {"type": "circle", "size": 36, "opacity": 1, "stroke": "white", "strokeWidth": 0.6},
      "encoding": {
       "x": {"field": "x", "type": "quantitative", "scale": {"domain": [-0.232, 0.236], "nice": false, "zero": false}, "axis": {"values": [-0.2, -0.1, 0, 0.1, 0.2], "format": "~g", "title": ["PC1", "(0.7% variance explained)"], "labelFontSize": 13, "titleFontSize": 16, "titlePadding": 8}},
       "y": {"field": "y", "type": "quantitative", "scale": {"domain": [-0.23, 0.254], "nice": false, "zero": false}, "axis": {"values": [-0.2, -0.1, 0, 0.1, 0.2], "format": "~g", "title": ["PC2", "(0.7% variance explained)"], "labelFontSize": 13, "titleFontSize": 15, "titlePadding": 2, "titleY": 88}},
       "color": {"field": "g", "type": "nominal", "scale": {"domain": ["P", "O", "L", "G", "T", "B", "U"], "range": ["#EF6B9B", "#EF7B45", "#A8923A", "#2E9C48", "#1FA596", "#5D90E2", "#C07CE9"]}, "legend": null}
      }
     },
     {
      "width": 292, "height": 160,
      "title": {"text": "b", "dx": -51, "dy": 5.5},
      "resolve": {"scale": {"x": "independent"}, "axis": {"x": "independent"}},
      "layer": [
       {
        "data": {"name": "hist"},
        "mark": {"type": "bar"},
        "encoding": {
         "x": {"field": "bin", "type": "ordinal", "scale": {"paddingInner": 0.12, "paddingOuter": 0}, "axis": {"labels": false, "title": null, "tickSize": 3, "tickColor": "#555", "tickWidth": 0.7}},
         "y": {"field": "n", "type": "quantitative", "title": "Number of eQTL variants", "scale": {"domain": [-3, 89.5], "nice": false, "zero": false}, "axis": {"values": [0, 25, 50, 75], "labelFontSize": 15, "titleFontSize": 15, "titlePadding": 4, "titleY": 88}},
         "color": {"field": "r", "type": "nominal", "scale": {"domain": ["upstream", "gene", "downstream"], "range": ["#5F8FE3", "#F5845B", "#2A8A2A"]}, "legend": null}
        }
       },
       {
        "data": {"name": "braces"},
        "mark": {"type": "line", "interpolate": "monotone", "strokeWidth": 2},
        "encoding": {
         "x": {"field": "x", "type": "quantitative", "scale": {"domain": [0, 72], "nice": false, "zero": false}, "axis": null},
         "y": {"field": "y", "type": "quantitative", "title": "Number of eQTL variants", "scale": {"domain": [-3, 89.5], "nice": false, "zero": false}},
         "stroke": {"field": "k", "type": "nominal", "scale": {"domain": ["u", "g", "d"], "range": ["#2D8FE8", "#F0A02A", "#6B9A45"]}, "legend": null}
        }
       },
       {
        "data": {"name": "regions"},
        "mark": {"type": "text", "fontSize": 16, "baseline": "middle", "color": "#111"},
        "encoding": {
         "x": {"field": "x", "type": "quantitative", "scale": {"domain": [0, 72], "nice": false, "zero": false}, "axis": null},
         "y": {"field": "y", "type": "quantitative", "title": "Number of eQTL variants", "scale": {"domain": [-3, 89.5], "nice": false, "zero": false}},
         "text": {"field": "t"}
        }
       }
      ]
     }
    ]
   }
  ]
 },
 {
  "title": {"text": "c", "dx": -36, "dy": 1.5},
  "spacing": 49,
  "resolve": {"scale": {"color": "independent"}, "legend": {"color": "independent"}},
  "hconcat": [
   {
    "spacing": 13,
    "resolve": {"scale": {"color": "independent"}, "legend": {"color": "independent"}},
    "hconcat": [
     {
      "bounds": "flush", "spacing": 63,
      "resolve": {"scale": {"color": "independent"}, "legend": {"color": "independent"}},
      "vconcat": [
       {
        "width": 140, "height": 126,
        "layer": [
         {"data": {"name": "eqtl"}, "mark": {"type": "circle", "size": 20, "opacity": 0.95},
          "encoding": {
           "x": {"field": "b0", "type": "quantitative", "scale": {"domain": [-2.5, 2.5], "nice": false, "zero": false}, "axis": {"values": [-2, -1, 0, 1, 2], "tickCount": 10, "format": "d", "title": "β₀", "titleFont": "Liberation Serif", "titleFontStyle": "italic", "titleFontSize": 18}},
           "y": {"field": "b1", "type": "quantitative", "scale": {"domain": [-2.5, 2.5], "nice": false, "zero": false}, "axis": {"values": [-2, -1, 0, 1, 2], "tickCount": 10, "format": "d", "title": "β₁", "titleFont": "Liberation Serif", "titleFontStyle": "italic", "titleFontSize": 18, "labelPadding": 1, "titlePadding": 1}},
           "color": {"field": "p0", "type": "quantitative", "scale": {"domain": [0, 90], "range": ["#132B43", "#56B1F7"]}, "legend": {"title": "-log₁₀P₀", "values": [20, 40, 60, 80], "orient": "none", "legendX": 10, "legendY": 4}}
          }},
         {"data": {"values": [{}]}, "mark": {"type": "rule", "color": "#222", "strokeWidth": 0.8}, "encoding": {"x": {"datum": -2.5}, "y": {"datum": -2.5}, "x2": {"datum": 2.5}, "y2": {"datum": 2.5}}},
         {"data": {"values": [{"r": "R=0.98"}]}, "mark": {"type": "text", "align": "right", "baseline": "alphabetic", "fontSize": 15}, "encoding": {"text": {"field": "r"}, "x": {"datum": 2.45}, "y": {"datum": -2.25}}}
        ]
       },
       {
        "width": 140, "height": 126,
        "layer": [
         {"data": {"name": "eqtl"}, "mark": {"type": "circle", "size": 20, "opacity": 0.95},
          "encoding": {
           "x": {"field": "b0", "type": "quantitative", "scale": {"domain": [-2.5, 2.5], "nice": false, "zero": false}, "axis": {"values": [-2, -1, 0, 1, 2], "tickCount": 10, "format": "d", "title": "β₀", "titleFont": "Liberation Serif", "titleFontStyle": "italic", "titleFontSize": 18}},
           "y": {"field": "b3", "type": "quantitative", "scale": {"domain": [-2.5, 2.5], "nice": false, "zero": false}, "axis": {"values": [-2, -1, 0, 1, 2], "tickCount": 10, "format": "d", "title": "β₃", "titleFont": "Liberation Serif", "titleFontStyle": "italic", "titleFontSize": 18, "labelPadding": 1, "titlePadding": 1}},
           "color": {"field": "p0", "type": "quantitative", "scale": {"domain": [0, 90], "range": ["#132B43", "#56B1F7"]}, "legend": {"title": "-log₁₀P₀", "values": [20, 40, 60, 80], "orient": "none", "legendX": 10, "legendY": 4}}
          }},
         {"data": {"values": [{}]}, "mark": {"type": "rule", "color": "#222", "strokeWidth": 0.8}, "encoding": {"x": {"datum": -2.5}, "y": {"datum": -2.5}, "x2": {"datum": 2.5}, "y2": {"datum": 2.5}}},
         {"data": {"values": [{"r": "R=0.99"}]}, "mark": {"type": "text", "align": "right", "baseline": "alphabetic", "fontSize": 15}, "encoding": {"text": {"field": "r"}, "x": {"datum": 2.45}, "y": {"datum": -2.25}}}
        ]
       }
      ]
     },
     {
      "bounds": "flush", "spacing": 63,
      "resolve": {"scale": {"color": "independent"}, "legend": {"color": "independent"}},
      "vconcat": [
       {
        "width": 132, "height": 126,
        "layer": [
         {"data": {"name": "eqtl"}, "mark": {"type": "circle", "size": 18, "opacity": 0.9},
          "encoding": {
           "x": {"field": "p0", "type": "quantitative", "scale": {"domain": [-7, 94], "nice": false, "zero": false}, "axis": {"values": [0, 25, 50, 75], "title": "-log₁₀P₀"}},
           "y": {"field": "p1", "type": "quantitative", "scale": {"domain": [-5, 95], "nice": false, "zero": false}, "axis": {"values": [0, 25, 50, 75], "title": "-log₁₀P₁"}},
           "color": {"field": "b0", "type": "quantitative", "scale": {"domain": [-1.5, 2.2], "range": ["#132B43", "#56B1F7"]}, "legend": {"title": "β₀", "titleFont": "Liberation Serif", "titleFontStyle": "italic", "titleFontSize": 12, "gradientThickness": 7, "values": [-1, 0, 1, 2], "orient": "none", "legendX": 11, "legendY": 2}}
          }},
         {"data": {"values": [{}]}, "mark": {"type": "rule", "color": "#222", "strokeWidth": 0.8}, "encoding": {"x": {"datum": -5}, "y": {"datum": -5}, "x2": {"datum": 94}, "y2": {"datum": 94}}},
         {"data": {"values": [{"r": "R=0.96"}]}, "mark": {"type": "text", "align": "right", "baseline": "alphabetic", "fontSize": 15}, "encoding": {"text": {"field": "r"}, "x": {"datum": 93}, "y": {"datum": 2}}}
        ]
       },
       {
        "width": 132, "height": 126,
        "layer": [
         {"data": {"name": "eqtl"}, "mark": {"type": "circle", "size": 18, "opacity": 0.9},
          "encoding": {
           "x": {"field": "p0", "type": "quantitative", "scale": {"domain": [-7, 94], "nice": false, "zero": false}, "axis": {"values": [0, 25, 50, 75], "title": "-log₁₀P₀"}},
           "y": {"field": "p3", "type": "quantitative", "scale": {"domain": [-5, 95], "nice": false, "zero": false}, "axis": {"values": [0, 25, 50, 75], "title": "-log₁₀P₃"}},
           "color": {"field": "b0", "type": "quantitative", "scale": {"domain": [-1.5, 2.2], "range": ["#132B43", "#56B1F7"]}, "legend": {"title": "β₀", "titleFont": "Liberation Serif", "titleFontStyle": "italic", "titleFontSize": 12, "gradientThickness": 7, "values": [-1, 0, 1, 2], "orient": "none", "legendX": 11, "legendY": 2}}
          }},
         {"data": {"values": [{}]}, "mark": {"type": "rule", "color": "#222", "strokeWidth": 0.8}, "encoding": {"x": {"datum": -5}, "y": {"datum": -5}, "x2": {"datum": 94}, "y2": {"datum": 94}}},
         {"data": {"values": [{"r": "R=0.96"}]}, "mark": {"type": "text", "align": "right", "baseline": "alphabetic", "fontSize": 15}, "encoding": {"text": {"field": "r"}, "x": {"datum": 93}, "y": {"datum": 2}}}
        ]
       }
      ]
     }
    ]
   },
   {
    "spacing": 12,
    "resolve": {"scale": {"color": "independent"}, "legend": {"color": "independent"}},
    "hconcat": [
     {
      "bounds": "flush", "spacing": 63,
      "resolve": {"scale": {"color": "independent"}, "legend": {"color": "independent"}},
      "vconcat": [
       {
        "width": 140, "height": 126,
        "layer": [
         {"data": {"name": "eqtl"}, "mark": {"type": "circle", "size": 20, "opacity": 0.95},
          "encoding": {
           "x": {"field": "b0", "type": "quantitative", "scale": {"domain": [-2.5, 2.5], "nice": false, "zero": false}, "axis": {"values": [-2, -1, 0, 1, 2], "tickCount": 10, "format": "d", "title": "β₀", "titleFont": "Liberation Serif", "titleFontStyle": "italic", "titleFontSize": 18}},
           "y": {"field": "b2", "type": "quantitative", "scale": {"domain": [-2.5, 2.5], "nice": false, "zero": false}, "axis": {"values": [-2, -1, 0, 1, 2], "tickCount": 10, "format": "d", "title": "β₂", "titleFont": "Liberation Serif", "titleFontStyle": "italic", "titleFontSize": 18, "labelPadding": 1, "titlePadding": 1}},
           "color": {"field": "p0", "type": "quantitative", "scale": {"domain": [0, 90], "range": ["#132B43", "#56B1F7"]}, "legend": {"title": "-log₁₀P₀", "values": [20, 40, 60, 80], "orient": "none", "legendX": 10, "legendY": 4}}
          }},
         {"data": {"values": [{}]}, "mark": {"type": "rule", "color": "#222", "strokeWidth": 0.8}, "encoding": {"x": {"datum": -2.5}, "y": {"datum": -2.5}, "x2": {"datum": 2.5}, "y2": {"datum": 2.5}}},
         {"data": {"values": [{"r": "R=0.97"}]}, "mark": {"type": "text", "align": "right", "baseline": "alphabetic", "fontSize": 15}, "encoding": {"text": {"field": "r"}, "x": {"datum": 2.45}, "y": {"datum": -2.25}}}
        ]
       },
       {
        "width": 140, "height": 126,
        "layer": [
         {"data": {"name": "eqtl"}, "mark": {"type": "circle", "size": 20, "opacity": 0.95},
          "encoding": {
           "x": {"field": "b0", "type": "quantitative", "scale": {"domain": [-2.5, 2.5], "nice": false, "zero": false}, "axis": {"values": [-2, -1, 0, 1, 2], "tickCount": 10, "format": "d", "title": "β₀", "titleFont": "Liberation Serif", "titleFontStyle": "italic", "titleFontSize": 18}},
           "y": {"field": "b4", "type": "quantitative", "scale": {"domain": [-2.5, 2.5], "nice": false, "zero": false}, "axis": {"values": [-2, -1, 0, 1, 2], "tickCount": 10, "format": "d", "title": "β₄", "titleFont": "Liberation Serif", "titleFontStyle": "italic", "titleFontSize": 18, "labelPadding": 1, "titlePadding": 1}},
           "color": {"field": "p0", "type": "quantitative", "scale": {"domain": [0, 90], "range": ["#132B43", "#56B1F7"]}, "legend": {"title": "-log₁₀P₀", "values": [20, 40, 60, 80], "orient": "none", "legendX": 10, "legendY": 4}}
          }},
         {"data": {"values": [{}]}, "mark": {"type": "rule", "color": "#222", "strokeWidth": 0.8}, "encoding": {"x": {"datum": -2.5}, "y": {"datum": -2.5}, "x2": {"datum": 2.5}, "y2": {"datum": 2.5}}},
         {"data": {"values": [{"r": "R=0.99"}]}, "mark": {"type": "text", "align": "right", "baseline": "alphabetic", "fontSize": 15}, "encoding": {"text": {"field": "r"}, "x": {"datum": 2.45}, "y": {"datum": -2.25}}}
        ]
       }
      ]
     },
     {
      "bounds": "flush", "spacing": 63,
      "resolve": {"scale": {"color": "independent"}, "legend": {"color": "independent"}},
      "vconcat": [
       {
        "width": 133, "height": 126,
        "layer": [
         {"data": {"name": "eqtl"}, "mark": {"type": "circle", "size": 18, "opacity": 0.9},
          "encoding": {
           "x": {"field": "p0", "type": "quantitative", "scale": {"domain": [-7, 94], "nice": false, "zero": false}, "axis": {"values": [0, 25, 50, 75], "title": "-log₁₀P₀"}},
           "y": {"field": "p2", "type": "quantitative", "scale": {"domain": [-5, 95], "nice": false, "zero": false}, "axis": {"values": [0, 25, 50, 75], "title": "-log₁₀P₂"}},
           "color": {"field": "b0", "type": "quantitative", "scale": {"domain": [-1.5, 2.2], "range": ["#132B43", "#56B1F7"]}, "legend": {"title": "β₀", "titleFont": "Liberation Serif", "titleFontStyle": "italic", "titleFontSize": 12, "gradientThickness": 7, "values": [-1, 0, 1, 2], "orient": "none", "legendX": 11, "legendY": 2}}
          }},
         {"data": {"values": [{}]}, "mark": {"type": "rule", "color": "#222", "strokeWidth": 0.8}, "encoding": {"x": {"datum": -5}, "y": {"datum": -5}, "x2": {"datum": 94}, "y2": {"datum": 94}}},
         {"data": {"values": [{"r": "R=0.95"}]}, "mark": {"type": "text", "align": "right", "baseline": "alphabetic", "fontSize": 15}, "encoding": {"text": {"field": "r"}, "x": {"datum": 93}, "y": {"datum": 2}}}
        ]
       },
       {
        "width": 133, "height": 126,
        "layer": [
         {"data": {"name": "eqtl"}, "mark": {"type": "circle", "size": 18, "opacity": 0.9},
          "encoding": {
           "x": {"field": "p0", "type": "quantitative", "scale": {"domain": [-7, 94], "nice": false, "zero": false}, "axis": {"values": [0, 25, 50, 75], "title": "-log₁₀P₀"}},
           "y": {"field": "p4", "type": "quantitative", "scale": {"domain": [-5, 95], "nice": false, "zero": false}, "axis": {"values": [0, 25, 50, 75], "title": "-log₁₀P₄"}},
           "color": {"field": "b0", "type": "quantitative", "scale": {"domain": [-1.5, 2.2], "range": ["#132B43", "#56B1F7"]}, "legend": {"title": "β₀", "titleFont": "Liberation Serif", "titleFontStyle": "italic", "titleFontSize": 12, "gradientThickness": 7, "values": [-1, 0, 1, 2], "orient": "none", "legendX": 11, "legendY": 2}}
          }},
         {"data": {"values": [{}]}, "mark": {"type": "rule", "color": "#222", "strokeWidth": 0.8}, "encoding": {"x": {"datum": -5}, "y": {"datum": -5}, "x2": {"datum": 94}, "y2": {"datum": 94}}},
         {"data": {"values": [{"r": "R=0.95"}]}, "mark": {"type": "text", "align": "right", "baseline": "alphabetic", "fontSize": 15}, "encoding": {"text": {"field": "r"}, "x": {"datum": 93}, "y": {"datum": 2}}}
        ]
       }
      ]
     }
    ]
   }
  ]
 }
]
}
